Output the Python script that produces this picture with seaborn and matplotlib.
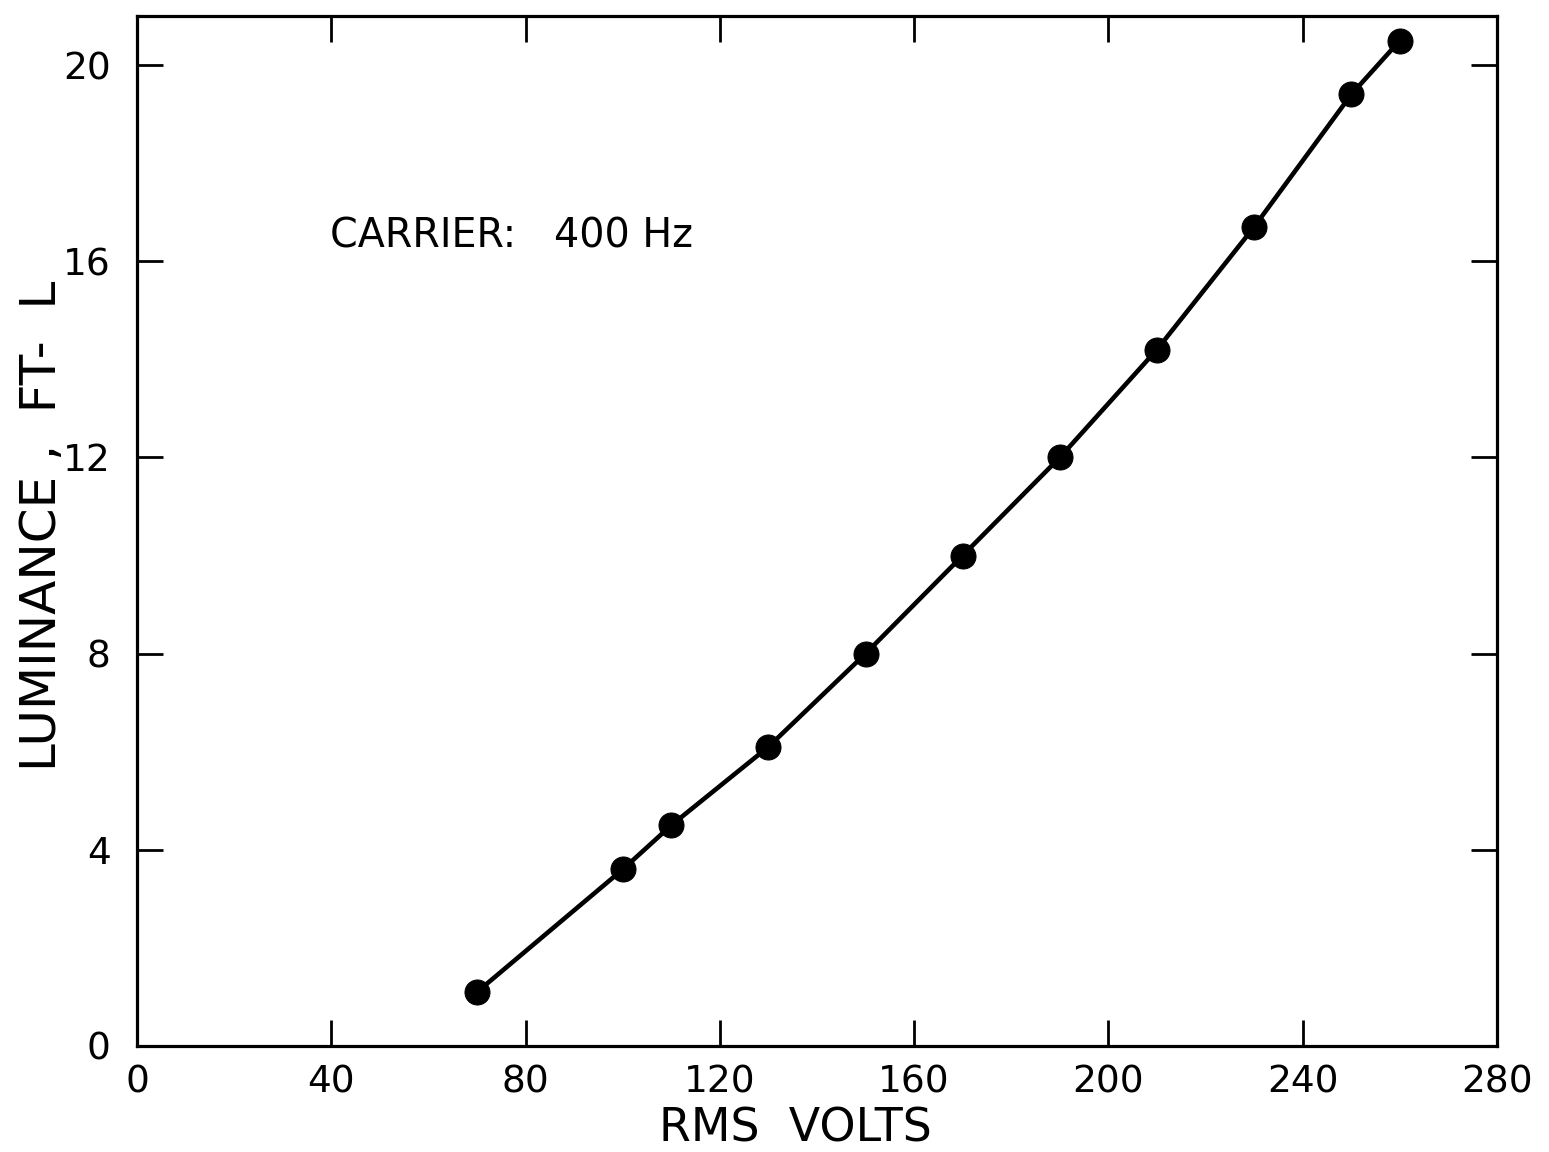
import matplotlib
matplotlib.use("Agg")
import matplotlib.pyplot as plt
import seaborn as sns
import pandas as pd

# Data
rms_volts = [70, 100, 110, 130, 150, 170, 190, 210, 230, 250, 260]
luminance = [1.1, 3.6, 4.5, 6.1, 8.0, 10.0, 12.0, 14.2, 16.7, 19.4, 20.5]

x_ticks = [0, 40, 80, 120, 160, 200, 240, 280]
y_ticks = [0, 4, 8, 12, 16, 20]
x_label = "RMS  VOLTS"
y_label = "LUMINANCE ,  FT-  L"
note = "CARRIER:   400 Hz"

sns.set_theme(style="ticks")
plt.rcParams["font.family"] = ["DejaVu Sans"]

df = pd.DataFrame({"volts": rms_volts, "lum": luminance})

fig = plt.figure(figsize=(15.49, 11.52), dpi=100)
ax = fig.add_axes([137/1549, 1 - 1046/1152, 1360/1549, 1030/1152])

sns.lineplot(data=df, x="volts", y="lum", ax=ax, color="black",
             linewidth=3.3, marker="o", markersize=18,
             markeredgecolor="black", markerfacecolor="black")

ax.set_xlim(0, 280)
ax.set_ylim(0, 21.0)
ax.set_xticks(x_ticks)
ax.set_yticks(y_ticks)
ax.set_xticklabels([str(v) for v in x_ticks])
ax.set_yticklabels([str(v) for v in y_ticks])

for s in ax.spines.values():
    s.set_visible(True)
    s.set_linewidth(2.3)
    s.set_color("black")

ax.tick_params(axis="both", which="major", direction="in", length=19,
               width=2.0, color="black", labelsize=27, labelcolor="black",
               top=True, right=True, labeltop=False, labelright=False)
ax.tick_params(axis="x", pad=13)
ax.tick_params(axis="y", pad=19)

ax.set_xlabel(x_label, fontsize=33, color="black", va="center")
ax.set_ylabel(y_label, fontsize=36, color="black", va="center")
ax.xaxis.set_label_coords((795 - 137) / 1360, (1046 - 1129) / 1030)
ax.yaxis.set_label_coords((42 - 137) / 1360, 0.505)

ax.text((330 - 137) / 1360, (1046 - 236) / 1030, note, transform=ax.transAxes,
        fontsize=28.5, color="black", ha="left", va="center")

ax.grid(False)
ax.set_facecolor("white")
fig.patch.set_facecolor("white")

fig.savefig("out.png", dpi=100, facecolor="white")
